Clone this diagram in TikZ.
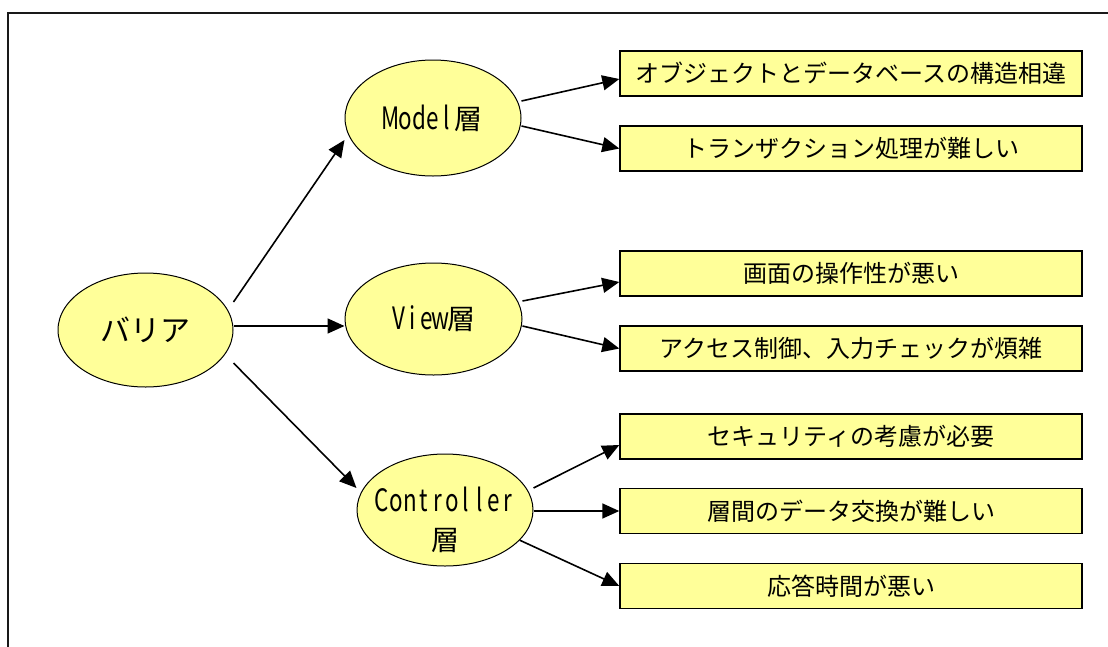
\documentclass[tikz,border=0pt]{standalone}
\usepackage{fontspec}
\usepackage{graphicx}
\setmainfont{Noto Sans CJK JP}
\usetikzlibrary{arrows.meta,shapes.geometric}
\definecolor{fillyellow}{HTML}{FFFF99}
\newcommand\hc[1]{\makebox[0.5em][c]{\scalebox{0.8}[1.1]{#1}}}
\begin{document}
\begin{tikzpicture}[x=1pt,y=-1pt,
  ell/.style={ellipse,draw=black,line width=1pt,fill=fillyellow,inner sep=0pt},
  box/.style={rectangle,draw=black,line width=1.4pt,fill=fillyellow,minimum width=462pt,minimum height=45pt,inner sep=0pt,font=\fontsize{24}{26}\selectfont},
  arr/.style={line width=1.6pt,-{Triangle[length=17pt,width=15pt]}}]
\useasboundingbox (0,0) rectangle (1108,646);
\draw[line width=2pt,black!90] (8,650) -- (8,13) -- (1112,13);

\node[ell,minimum width=175pt,minimum height=114pt,font=\fontsize{30}{32}\selectfont] (bar) at (145.5,330) {バリア};
\node[ell,minimum width=176pt,minimum height=116pt,font=\fontsize{28}{30}\selectfont] (model) at (433,118) {\hc{M}\hc{o}\hc{d}\hc{e}\hc{l}層};
\node[ell,minimum width=177pt,minimum height=112pt,font=\fontsize{28}{30}\selectfont] (view) at (433.5,319) {\hc{V}\hc{i}\hc{e}\hc{w}層};
\node[ell,minimum width=176pt,minimum height=112pt] (ctrl) at (445,510) {};
\node[font=\fontsize{28}{39}\selectfont,align=center,inner sep=0pt] (ctrltext) at ([yshift=-10pt]ctrl.center) {\hc{C}\hc{o}\hc{n}\hc{t}\hc{r}\hc{o}\hc{l}\hc{l}\hc{e}\hc{r}\\層};

\node[box] (b1) at (851,73.5) {オブジェクトとデータベースの構造相違};
\node[box] (b2) at (851,148.5) {トランザクション処理が難しい};
\node[box] (b3) at (851,273.5) {画面の操作性が悪い};
\node[box] (b4) at (851,348.5) {アクセス制御、入力チェックが煩雑};
\node[box] (b5) at (851,436.5) {セキュリティの考慮が必要};
\node[box] (b6) at (851,511) {層間のデータ交換が難しい};
\node[box] (b7) at (851,586) {応答時間が悪い};

\draw[arr] ([yshift=28pt]bar.east) -- ([yshift=-22pt]model.west);
\draw[arr] ([yshift=4pt]bar.east) -- ([yshift=-7pt]view.west);
\draw[arr] ([yshift=-33pt]bar.east) -- ([yshift=22pt]ctrl.west);

\draw[arr] ([yshift=17pt]model.east) -- ([yshift=-5.5pt]b1.west);
\draw[arr] ([yshift=-8pt]model.east) -- (b2.west);
\draw[arr] ([yshift=18pt]view.east) -- ([yshift=-8.5pt]b3.west);
\draw[arr] ([yshift=-7pt]view.east) -- (b4.west);
\draw[arr] ([yshift=22pt]ctrl.east) -- ([yshift=-8.5pt]b5.west);
\draw[arr] ([yshift=-1pt]ctrl.east) -- (b6.west);
\draw[arr] (ctrl.-22.5) -- (b7.west);
\end{tikzpicture}
\end{document}
